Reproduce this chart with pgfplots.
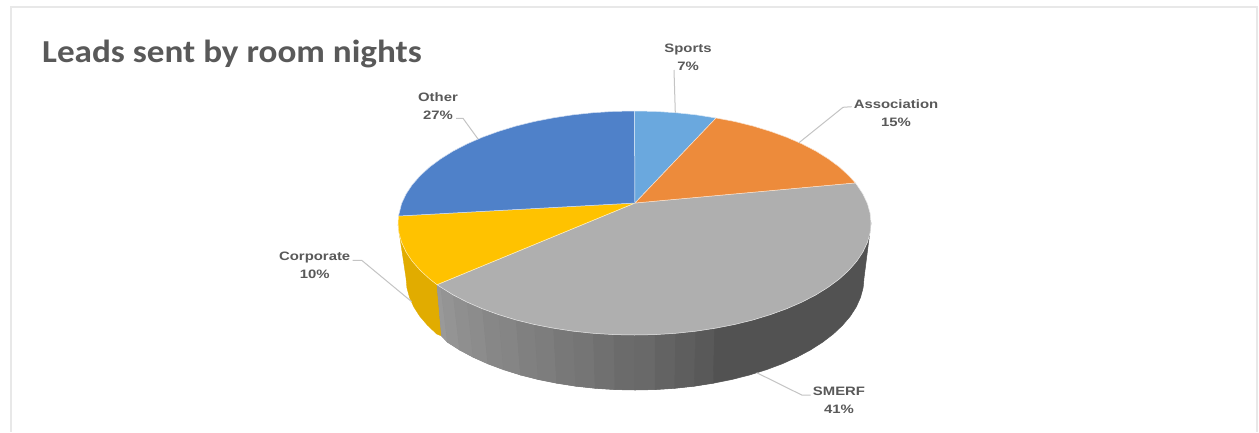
\documentclass[border=0pt]{standalone}
\usepackage{fontspec}
\setmainfont{Liberation Sans}
\newfontfamily\lab{Liberation Sans}[FakeStretch=1.22]
\newfontfamily\ttl{Carlito}[FakeStretch=1.098]
\usepackage{pgfplots}
\pgfplotsset{compat=1.18}
\definecolor{txt}{HTML}{595959}
\definecolor{leader}{HTML}{C4C4C4}
\definecolor{frame}{HTML}{E8E8E8}
\definecolor{cother}{HTML}{4F81C9}
\definecolor{csports}{HTML}{6AA8DE}
\definecolor{cassoc}{HTML}{ED8B3B}
\definecolor{csmerf}{HTML}{AFAFAF}
\definecolor{ccorp}{HTML}{FFC200}
\definecolor{ccorpside}{HTML}{E1AC00}
\pgfplotsset{
  facet/.style={fill=black!#1,draw=black!#1,line width=0.5pt},
  slice/.style={fill=#1,draw=white!75!#1,line width=0.5pt,line join=round},
  lead/.style={leader,line width=1pt},
}
\newcommand{\lbl}[4]{%
  \node[anchor=base,font=\lab\bfseries\fontsize{12.2}{13}\selectfont,text=txt,inner sep=0pt] at (axis cs:#1,#2) {#3};
  \node[anchor=base,font=\lab\bfseries\fontsize{12.2}{13}\selectfont,text=txt,inner sep=0pt] at (axis cs:#1,#2+18) {#4};
}
\begin{document}
\begin{tikzpicture}
\begin{axis}[
  width=1259pt, height=432pt, scale only axis,
  xmin=0, xmax=1259, ymin=0, ymax=432,
  y dir=reverse, hide axis,
]
% white page, keeps the bounding box at the full size
\addplot[fill=white,draw=none] coordinates {(0,0) (1259,0) (1259,432) (0,432)} --cycle;
% chart frame, open at the bottom
\addplot[frame,line width=1.5pt] coordinates {(11,432) (11,7) (1257,7) (1257,432)};

% side wall: corporate
\addplot[fill=ccorpside,draw=ccorpside,line width=0.3pt] coordinates {
  (398,225) (406,278) (406.9,287.8) (409.5,297.4) (413.8,307) (419.8,316.3)
  (427.5,325.3) (436.7,334) (441.5,336) (437,284.7)} --cycle;

% side wall: backing under the SMERF facets
\addplot[fill=black!55,draw=none] coordinates {
  (437,284.7) (441.5,336) (447.4,342.2) (459.6,350) (473.1,357.2) (487.8,363.8)
  (503.6,369.7) (520.5,375) (538.2,379.5) (556.7,383.2) (575.7,386.2) (595.2,388.3)
  (615,389.6) (635,390) (655,389.6) (674.8,388.3) (694.3,386.2) (713.3,383.2) (715.4,300)} --cycle;

% side wall: SMERF facets, light to dark
\addplot[facet=40] coordinates {(437,284.7) (440.8,287.2) (447.4,342.2) (441.5,336)} --cycle;
\addplot[facet=42] coordinates {(440.8,287.2) (453.3,295) (459.6,350) (447.4,342.2)} --cycle;
\addplot[facet=44] coordinates {(453.3,295) (467.3,302.2) (473.1,357.2) (459.6,350)} --cycle;
\addplot[facet=45] coordinates {(467.3,302.2) (482.5,308.8) (487.8,363.8) (473.1,357.2)} --cycle;
\addplot[facet=47] coordinates {(482.5,308.8) (498.8,314.7) (503.6,369.7) (487.8,363.8)} --cycle;
\addplot[facet=48] coordinates {(498.8,314.7) (516.2,320) (520.5,375) (503.6,369.7)} --cycle;
\addplot[facet=50] coordinates {(516.2,320) (534.5,324.5) (538.2,379.5) (520.5,375)} --cycle;
\addplot[facet=51] coordinates {(534.5,324.5) (553.6,328.2) (556.7,383.2) (538.2,379.5)} --cycle;
\addplot[facet=53] coordinates {(553.6,328.2) (573.3,331.2) (575.7,386.2) (556.7,383.2)} --cycle;
\addplot[facet=54] coordinates {(573.3,331.2) (593.4,333.3) (595.2,388.3) (575.7,386.2)} --cycle;
\addplot[facet=56] coordinates {(593.4,333.3) (613.9,334.6) (615,389.6) (595.2,388.3)} --cycle;
\addplot[facet=58] coordinates {(613.9,334.6) (634.5,335) (635,390) (615,389.6)} --cycle;
\addplot[facet=59] coordinates {(634.5,335) (655.1,334.6) (655,389.6) (635,390)} --cycle;
\addplot[facet=61] coordinates {(655.1,334.6) (675.6,333.3) (674.8,388.3) (655,389.6)} --cycle;
\addplot[facet=63] coordinates {(675.6,333.3) (695.7,331.2) (694.3,386.2) (674.8,388.3)} --cycle;
\addplot[facet=65] coordinates {(695.7,331.2) (715.4,328.2) (713.3,383.2) (694.3,386.2)} --cycle;
\addplot[facet=68] coordinates {
  (715.4,300) (713.3,383.2) (731.8,379.5) (749.5,375) (766.4,369.7) (782.2,363.8)
  (796.9,357.2) (810.4,350) (822.6,342.2) (833.3,334) (842.5,325.3) (850.2,316.3)
  (856.2,307) (860.5,297.4) (863.1,287.8) (864,278) (871,223)} --cycle;

% top face
\addplot[slice=csmerf] coordinates {
  (635,203) (855.3,182.9) (856.7,184.7) (862.9,194) (867.4,203.6) (870.1,213.2) (871,223)
  (870.1,232.8) (867.4,242.4) (862.9,252) (856.7,261.3) (848.8,270.3) (839.3,279)
  (828.2,287.2) (815.7,295) (801.7,302.2) (786.5,308.8) (770.2,314.7) (752.8,320)
  (734.5,324.5) (715.4,328.2) (695.7,331.2) (675.6,333.3) (655.1,334.6) (634.5,335)
  (613.9,334.6) (593.4,333.3) (573.3,331.2) (553.6,328.2) (534.5,324.5) (516.2,320)
  (498.8,314.7) (482.5,308.8) (467.3,302.2) (453.3,295) (440.8,287.2) (437,284.7)} --cycle;
\addplot[slice=ccorp] coordinates {
  (635,203) (437,284.7) (429.7,279) (420.2,270.3) (412.3,261.3) (406.1,252) (401.6,242.4)
  (398.9,232.8) (398,223) (398.5,216)} --cycle;
\addplot[slice=cother] coordinates {
  (635,203) (398.5,216) (401.6,203.6) (406.1,194) (412.3,184.7) (420.2,175.7) (429.7,167)
  (440.8,158.8) (453.3,151) (467.3,143.8) (482.5,137.2) (498.8,131.3) (516.2,126)
  (534.5,121.5) (553.6,117.8) (573.3,114.8) (593.4,112.7) (613.9,111.4) (634.5,111)} --cycle;
\addplot[slice=csports] coordinates {
  (635,203) (634.5,111) (655.1,111.4) (675.6,112.7) (695.7,114.8) (716,118)} --cycle;
\addplot[slice=cassoc] coordinates {
  (635,203) (716,118) (734.5,121.5) (752.8,126) (770.2,131.3) (786.5,137.2) (801.7,143.8)
  (815.7,151) (828.2,158.8) (839.3,167) (848.8,175.7) (855.3,182.9)} --cycle;

% leader lines
\addplot[lead] coordinates {(674,70) (675.3,112.7)};
\addplot[lead] coordinates {(851.7,106.7) (843,107.3) (799,142.7)};
\addplot[lead] coordinates {(456,118.3) (463,118.3) (478,139)};
\addplot[lead] coordinates {(352.7,260.3) (361.7,260.3) (411.7,301.7)};
\addplot[lead] coordinates {(756.7,372.7) (801.7,395) (810.7,395)};

% labels
\lbl{688}{52.7}{Sports}{7\%}
\lbl{896}{108}{Association}{15\%}
\lbl{438}{101}{Other}{27\%}
\lbl{314.7}{260}{Corporate}{10\%}
\lbl{839}{395}{SMERF}{41\%}

\node[anchor=base west,font=\ttl\bfseries\fontsize{32}{34}\selectfont,text=txt,inner sep=0pt] at (axis cs:42,62) {Leads sent by room nights};
\end{axis}
\end{tikzpicture}
\end{document}
